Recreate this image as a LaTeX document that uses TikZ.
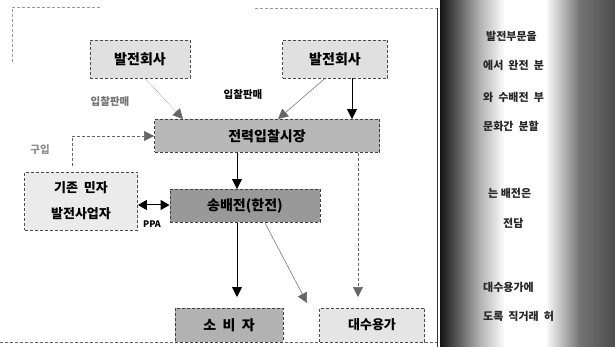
\documentclass[tikz,border=0pt]{standalone}
\usepackage{fontspec}
\setmainfont{Noto Sans CJK KR}
\usetikzlibrary{arrows.meta}
\begin{document}
\begin{tikzpicture}[x=1pt,y=-1pt,
  box/.style={draw=black!70,densely dashed,line width=0.8pt,fill=black!12,inner sep=0pt,font=\fontsize{14}{16}\selectfont\bfseries},
  darkbox/.style={draw=black!75,densely dashed,line width=0.9pt,inner sep=0pt,font=\fontsize{14}{16}\selectfont\bfseries},
  tri/.style={-{Triangle[width=10pt,length=10pt]}},
  conn/.style={line width=0.8pt,tri},
  thin/.style={black!60,line width=0.5pt,tri},
  lbl/.style={font=\fontsize{10.5}{12}\selectfont\bfseries,inner sep=1pt},
  side/.style={font=\fontsize{11}{13}\selectfont\bfseries,anchor=west,inner sep=0pt,text=black!85}
]
\useasboundingbox (0,0) rectangle (615,347);
\fill[white] (0,0) rectangle (615,347);
% faint frame
\draw[black!40,densely dashed,line width=0.5pt] (12,62) -- (12,7) -- (100,7);
\draw[black!40,densely dashed,line width=0.5pt] (255,8) -- (437,8);
\draw[black!60,densely dashed,line width=0.6pt] (0,342) -- (437,342);
\draw[black!80,line width=1pt] (437,8) -- (437,347);
% right panel
\shade[left color=black!92,right color=black!30] (440,0) rectangle (480,347);
\shade[left color=black!30,right color=white] (480,0) rectangle (505,347);
\fill[white] (505,0) rectangle (545,347);
\shade[left color=white,right color=black!55] (545,0) rectangle (580,347);
\shade[left color=black!55,right color=black!70] (580,0) rectangle (615,347);
\node[side] (s1) at (486,36) {발전부문을};
\node[side] (s2) at (483,65) {에서\ \ 완전\ \ 분};
\node[side] (s3) at (483,97) {와\ \ 수배전\ \ 부};
\node[side] (s4) at (483,126) {문화간\ \ 분할};
\node[side] (s5) at (488,193) {는\ 배전은};
\node[side] (s6) at (503,223) {전담};
\node[side] (s7) at (483,287) {대수용가에};
\node[side] (s8) at (483,316) {도록\ \ 직거래\ \ 허};
% boxes
\node[box,minimum width=100pt,minimum height=38pt] (g1) at (140,59) {발전회사};
\node[box,minimum width=105pt,minimum height=38pt] (g2) at (335,59) {발전회사};
\node[darkbox,fill=black!28,minimum width=225pt,minimum height=33pt] (mk) at (267,136) {전력입찰시장};
\node[box,fill=black!8,minimum width=113pt,minimum height=58pt,align=center,font=\fontsize{13}{26}\selectfont\bfseries] (lb) at (81,201) {기존\ \ 민자\\발전사업자};
\node[darkbox,fill=black!40,minimum width=150pt,minimum height=33pt] (tr) at (245,206) {송배전(한전)};
\node[darkbox,fill=black!30,minimum width=108pt,minimum height=34pt] (cs) at (229,325) {소\ \ 비\ \ 자};
\node[box,fill=black!10,minimum width=105pt,minimum height=34pt,font=\fontsize{13}{15}\selectfont\bfseries] (bu) at (372,325) {대수용가};
% labels
\node[lbl,text=black!55] (l1) at (110,102) {입찰판매};
\node[lbl] (l2) at (243,95) {입찰판매};
\node[lbl,text=black!45] (l3) at (40,150) {구입};
\node[lbl,font=\fontsize{9}{10}\selectfont\bfseries] (l4) at (152,224) {PPA};
% connectors
\coordinate (mkA) at (183,119);
\coordinate (mkB) at (278,119);
\draw[thin,densely dotted] (g1.south -| 145,0) -- (mkA);
\draw[thin] (g2.south -| 325,0) -- (mkB);
\draw[conn] (g2.south -| 352,0) -- (mk.north -| 352,0);
\draw[black!60,densely dashed,line width=0.6pt,tri] (lb.north -| 72,0) ++(0,-6) |- (mk.west);
\draw[conn] (mk.south -| 237,0) -- (tr.north -| 237,0);
\draw[black!60,densely dashed,line width=0.6pt,tri] (mk.south -| 358,0) -- (358,297);
\coordinate (csA) at (237,297);
\draw[conn] (tr.south -| 237,0) -- (csA);
\coordinate (buA) at (307,303);
\draw[thin] (tr.south -| 265,0) -- (buA);
\draw[line width=1pt,{Triangle[width=10pt,length=9pt]}-{Triangle[width=10pt,length=9pt]}] (lb.east |- 0,205) -- (tr.west |- 0,205);
\end{tikzpicture}
\end{document}
